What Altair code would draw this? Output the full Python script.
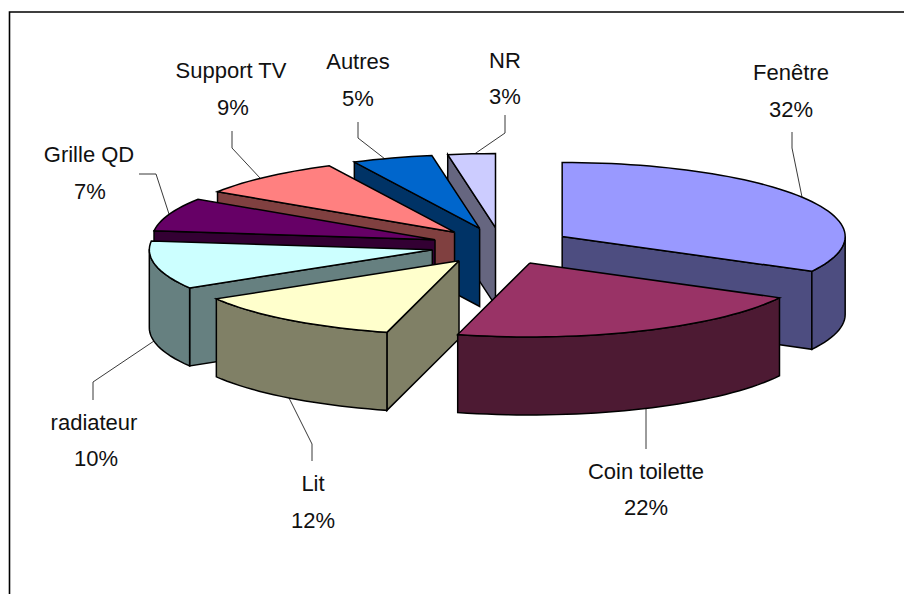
import math
import altair as alt
import pandas as pd

categories = ["Fenêtre", "Coin toilette", "Lit", "radiateur", "Grille QD", "Support TV", "Autres", "NR"]
labels_pct = [32, 22, 12, 10, 7, 9, 5, 3]
drawn_pct = [32.8, 21.3, 12.3, 10.5, 7.3, 8.5, 4.6, 2.7]
top_colors = ["#9999FF", "#993366", "#FFFFCC", "#CCFFFF", "#660066", "#FF8080", "#0066CC", "#CCCCFF"]
wall_colors = ["#4D4D80", "#4D1A33", "#808066", "#668080", "#330033", "#804040", "#003366", "#666680"]

CX, CY, RX, RY = 501.5, 246.0, 283.0, 74.0
DEPTH = 78.0 / RY
EXPLODE = 0.25
ORIGIN = 8
W, H = 896, 586
paint_order = [7, 6, 5, 4, 3, 0, 2, 1]

def ux(px):
    return (px - CX) / RX

def uy(py):
    return (CY - py) / RY

label_rows = [
    (791, 73, 791, 110), (646, 472, 646, 508), (313, 484, 313, 521), (94, 423, 96, 459),
    (89, 155, 90, 192), (231, 71, 233, 108), (358, 62, 358, 99), (505, 61, 505, 97),
]
leaders = [
    [(792, 132), (792, 148), (802, 197)],
    [(646, 408), (646, 449)],
    [(289, 398), (312, 444), (312, 461)],
    [(154, 341), (93, 382), (93, 400)],
    [(139, 174), (156, 174), (169, 214)],
    [(232, 131), (232, 148), (260, 178)],
    [(358, 122), (358, 138), (385, 159)],
    [(505, 115), (505, 133), (473, 155)],
]
frame = [(9.5, 640), (9.5, 12), (950, 12)]

starts, acc = [], 0.0
for p in drawn_pct:
    starts.append(acc)
    acc += p
total = sum(drawn_pct)

polys, pid = [], 0

def add_poly(pts, fill):
    global pid
    pts = list(pts) + [pts[0]]
    for k, (x, y) in enumerate(pts):
        polys.append({"pid": f"p{pid:03d}", "k": k, "x": x, "y": y, "fill": fill})
    pid += 1

def rim(cx, cy, a):
    return (cx + math.sin(a), cy + math.cos(a))

for i in paint_order:
    a0 = starts[i] / total * 2 * math.pi
    a1 = (starts[i] + drawn_pct[i]) / total * 2 * math.pi
    mid = (a0 + a1) / 2
    cx, cy = EXPLODE * math.sin(mid), EXPLODE * math.cos(mid)
    steps = max(4, int((a1 - a0) / math.radians(2)))
    angs = [a0 + (a1 - a0) * s / steps for s in range(steps + 1)]
    arc = [rim(cx, cy, a) for a in angs]
    wall = wall_colors[i]
    if math.cos(a0 - math.pi / 2) < -1e-6:
        e = rim(cx, cy, a0)
        add_poly([(cx, cy), e, (e[0], e[1] - DEPTH), (cx, cy - DEPTH)], wall)
    if math.cos(a1 + math.pi / 2) < -1e-6:
        e = rim(cx, cy, a1)
        add_poly([(cx, cy), e, (e[0], e[1] - DEPTH), (cx, cy - DEPTH)], wall)
    front = [a for a in angs if math.cos(a) <= 0.02]
    if len(front) > 1:
        up = [rim(cx, cy, a) for a in front]
        add_poly(up + [(x, y - DEPTH) for x, y in reversed(up)], wall)
    add_poly([(cx, cy)] + arc, top_colors[i])

x_scale = alt.Scale(domain=[ux(ORIGIN), ux(ORIGIN + W)], nice=False, zero=False)
y_scale = alt.Scale(domain=[uy(ORIGIN + H), uy(ORIGIN)], nice=False, zero=False)
X = lambda f: alt.X(f, type="quantitative", scale=x_scale, axis=None)
Y = lambda f: alt.Y(f, type="quantitative", scale=y_scale, axis=None)

pie = alt.Chart(pd.DataFrame(polys)).mark_line(stroke="black", strokeWidth=1.5, clip=True).encode(
    x=X("x"), y=Y("y"), detail="pid:N", order="k:Q",
    fill=alt.Fill("fill:N", scale=None),
)

lead_rows = []
for i, pts in enumerate(leaders):
    for k, (x, y) in enumerate(pts):
        lead_rows.append({"id": categories[i], "k": k, "x": ux(x), "y": uy(y)})
lead = alt.Chart(pd.DataFrame(lead_rows)).mark_line(stroke="#222222", strokeWidth=0.9).encode(
    x=X("x"), y=Y("y"), detail="id:N", order="k:Q")

frame_df = pd.DataFrame([{"k": k, "x": ux(x), "y": uy(y)} for k, (x, y) in enumerate(frame)])
box = alt.Chart(frame_df).mark_line(stroke="black", strokeWidth=1.6, clip=True).encode(
    x=X("x"), y=Y("y"), order="k:Q")

text_rows = []
for i, (nx, ny, px, py) in enumerate(label_rows):
    text_rows.append({"t": categories[i], "x": ux(nx), "y": uy(ny)})
    text_rows.append({"t": f"{labels_pct[i]}%", "x": ux(px), "y": uy(py)})
txt = alt.Chart(pd.DataFrame(text_rows)).mark_text(
    font="Liberation Sans", fontSize=22, color="#111111", align="center", baseline="middle"
).encode(x=X("x"), y=Y("y"), text="t:N")

chart = (box + lead + pie + txt).properties(
    width=W, height=H, padding=0, background="white"
).configure_view(stroke=None)
chart.save("out.html", embed_options={"renderer": "svg", "actions": False})
